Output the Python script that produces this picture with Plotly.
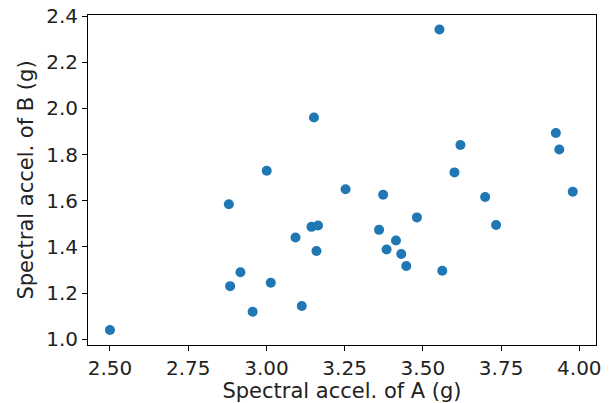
import plotly.graph_objects as go

accel_a = [2.500, 3.152, 3.001, 3.253, 3.373, 2.880, 3.144, 3.165, 3.093, 3.160,
           2.917, 2.884, 3.014, 2.956, 3.113, 3.360, 3.414, 3.384, 3.431, 3.447,
           3.553, 3.925, 3.936, 3.620, 3.601, 3.699, 3.979, 3.481, 3.734, 3.562]
accel_b = [1.040, 1.961, 1.730, 1.650, 1.626, 1.585, 1.487, 1.493, 1.441, 1.382,
           1.290, 1.230, 1.245, 1.119, 1.144, 1.474, 1.428, 1.389, 1.369, 1.317,
           2.342, 1.894, 1.822, 1.842, 1.723, 1.616, 1.639, 1.528, 1.495, 1.297]

x_label = "Spectral accel. of A (g)"
y_label = "Spectral accel. of B (g)"

fig = go.Figure(go.Scatter(
    x=accel_a, y=accel_b, mode="markers",
    marker=dict(color="#1f77b4", size=10, line=dict(width=0)),
))

font = dict(family="DejaVu Sans", color="#000000")
axis_common = dict(
    showgrid=False, zeroline=False, showline=True, linecolor="#000000", linewidth=1,
    mirror=True, ticks="outside", ticklen=5, tickwidth=1, tickcolor="#000000",
    tickfont=dict(family="DejaVu Sans", size=20, color="#222222"),
    automargin=False, ticklabeloverflow="allow",
)
fig.update_layout(
    width=612, height=403,
    margin=dict(l=88, r=16, t=15, b=58),
    paper_bgcolor="white", plot_bgcolor="white",
    showlegend=False, font=font, hovermode=False,
    xaxis=dict(range=[2.4298, 4.0533], tick0=2.5, dtick=0.25, tickformat=".2f",
               title=dict(text=x_label, font=dict(family="DejaVu Sans", size=21, color="#222222"), standoff=4),
               **axis_common),
    yaxis=dict(range=[0.975, 2.405], tick0=1.0, dtick=0.2, tickformat=".1f",
               title=dict(text=y_label, font=dict(family="DejaVu Sans", size=21, color="#222222"), standoff=6),
               **axis_common),
)
fig.write_html("out.html", config={"displayModeBar": False},
               post_script="document.body.style.margin='0';")
